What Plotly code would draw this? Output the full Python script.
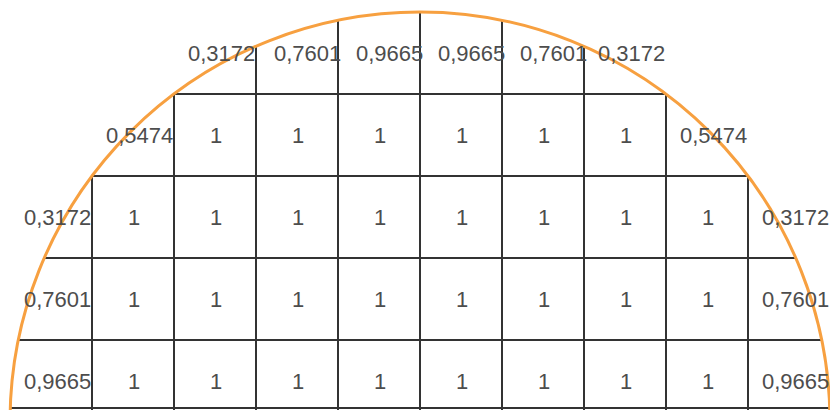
import math
import plotly.graph_objects as go

# Fraction of each grid cell lying inside the semicircle (radius = 5 cells).
# Rows listed bottom to top; each row's cells are centred on the vertical diameter.
row_0 = [0.9665, 1, 1, 1, 1, 1, 1, 1, 1, 0.9665]
row_1 = [0.7601, 1, 1, 1, 1, 1, 1, 1, 1, 0.7601]
row_2 = [0.3172, 1, 1, 1, 1, 1, 1, 1, 1, 0.3172]
row_3 = [0.5474, 1, 1, 1, 1, 1, 1, 0.5474]
row_4 = [0.3172, 0.7601, 0.9665, 0.9665, 0.7601, 0.3172]
rows = [row_0, row_1, row_2, row_3, row_4]
radius = 5

def fmt(v):
    return "1" if v == 1 else f"{v:.4f}".replace(".", ",")

fig = go.Figure()

grid_color = "#333333"
shapes = []
# horizontal grid lines clipped to circle
for j in range(1, len(rows)):
    half = math.sqrt(radius**2 - j**2)
    shapes.append(dict(type="line", x0=-half, x1=half, y0=j, y1=j,
                       line=dict(color=grid_color, width=2)))
# vertical grid lines clipped to circle
for i in range(-radius + 1, radius):
    top = math.sqrt(radius**2 - i**2)
    shapes.append(dict(type="line", x0=i, x1=i, y0=-1, y1=top,
                       line=dict(color=grid_color, width=2)))
# bottom edge line
shapes.append(dict(type="line", xref="x", yref="paper", x0=-radius, x1=radius,
                   y0=0.0245, y1=0.0245, line=dict(color=grid_color, width=2)))
# orange semicircle
shapes.append(dict(type="circle", x0=-radius, x1=radius, y0=-radius, y1=radius,
                   line=dict(color="#f7a040", width=3)))

annotations = []
for j, row in enumerate(rows):
    n = len(row)
    for k, v in enumerate(row):
        xc = -n / 2 + k + 0.5
        yc = j + 0.5
        edge = k in (0, n - 1) and v != 1
        annotations.append(dict(
            x=xc, y=yc, text=fmt(v), showarrow=False,
            xshift=1 if v == 1 else (6 if edge else 10),
            font=dict(family="Liberation Sans, Arial, sans-serif", size=22, color="#4d4d4d"),
        ))

cell_px = 82
cx_px, cy_px = 412, 414  # circle centre within the figure (page adds 8px body margin)
fig.update_layout(
    width=838, height=410,
    margin=dict(l=0, r=0, t=0, b=0),
    paper_bgcolor="white", plot_bgcolor="white",
    shapes=shapes, annotations=annotations,
    showlegend=False,
    xaxis=dict(range=[-cx_px / cell_px, (838 - cx_px) / cell_px], visible=False, fixedrange=True),
    yaxis=dict(range=[(cy_px - 410) / cell_px, cy_px / cell_px], visible=False, fixedrange=True),
)
fig.write_html("out.html")
